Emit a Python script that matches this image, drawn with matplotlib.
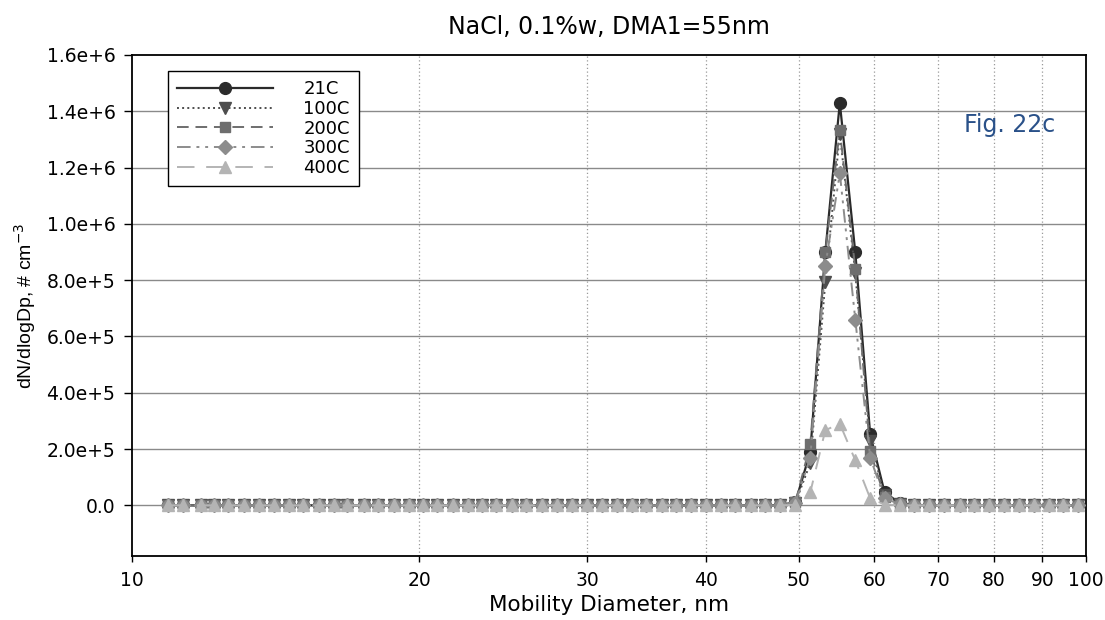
import matplotlib
matplotlib.use('Agg')
import matplotlib.pyplot as plt
from matplotlib.ticker import FuncFormatter, NullLocator

plt.rcParams['font.family'] = ['DejaVu Sans']

# SMPS channel midpoints, nm
diam = [10.9, 11.3, 11.8, 12.2, 12.6, 13.1, 13.6, 14.1, 14.6, 15.1,
        15.7, 16.3, 16.8, 17.5, 18.1, 18.8, 19.5, 20.2, 20.9, 21.7,
        22.5, 23.3, 24.1, 25.0, 25.9, 26.9, 27.9, 28.9, 30.0, 31.1,
        32.2, 33.4, 34.6, 35.9, 37.2, 38.5, 40.0, 41.4, 42.9, 44.5,
        46.1, 47.8, 49.6, 51.4, 53.3, 55.2, 57.3, 59.4, 61.5, 63.8,
        66.1, 68.5, 71.0, 73.7, 76.4, 79.1, 82.0, 85.1, 88.2, 91.4,
        94.7, 98.2]

# dN/dlogDp for each temperature (zeros outside the peak)
n_21c = [0, 0, 0, 0, 0, 0, 0, 0, 0, 0,
         0, 0, 0, 0, 0, 0, 0, 0, 0, 0,
         0, 0, 0, 0, 0, 0, 0, 0, 0, 0,
         0, 0, 0, 0, 0, 0, 0, 0, 0, 0,
         0, 0, 1.2e4, 1.9e5, 9.0e5, 1.43e6, 8.99e5, 2.52e5, 4.6e4, 8e3,
         2e3, 0, 0, 0, 0, 0, 0, 0, 0, 0,
         0, 0]
n_100c = [0, 0, 0, 0, 0, 0, 0, 0, 0, 0,
          0, 0, 0, 0, 0, 0, 0, 0, 0, 0,
          0, 0, 0, 0, 0, 0, 0, 0, 0, 0,
          0, 0, 0, 0, 0, 0, 0, 0, 0, 0,
          0, 0, 1.0e4, 1.5e5, 7.93e5, 1.32e6, 8.25e5, 2.3e5, 3.5e4, 5e3,
          1e3, 0, 0, 0, 0, 0, 0, 0, 0, 0,
          0, 0]
n_200c = [0, 0, 0, 0, 0, 0, 0, 0, 0, 0,
          0, 0, 0, 0, 0, 0, 0, 0, 0, 0,
          0, 0, 0, 0, 0, 0, 0, 0, 0, 0,
          0, 0, 0, 0, 0, 0, 0, 0, 0, 0,
          0, 0, 1.2e4, 2.17e5, 9.0e5, 1.333e6, 8.4e5, 1.92e5, 3.0e4, 5e3,
          1e3, 0, 0, 0, 0, 0, 0, 0, 0, 0,
          0, 0]
n_300c = [0, 0, 0, 0, 0, 0, 0, 0, 0, 0,
          0, 0, 0, 0, 0, 0, 0, 0, 0, 0,
          0, 0, 0, 0, 0, 0, 0, 0, 0, 0,
          0, 0, 0, 0, 0, 0, 0, 0, 0, 0,
          0, 0, 1.0e4, 1.7e5, 8.5e5, 1.18e6, 6.6e5, 1.7e5, 2.5e4, 4e3,
          1e3, 0, 0, 0, 0, 0, 0, 0, 0, 0,
          0, 0]
n_400c = [0, 0, 0, 0, 0, 0, 0, 0, 0, 0,
          0, 0, 0, 0, 0, 0, 0, 0, 0, 0,
          0, 0, 0, 0, 0, 0, 0, 0, 0, 0,
          0, 0, 0, 0, 0, 0, 0, 0, 0, 0,
          0, 0, 2e3, 4.6e4, 2.67e5, 2.9e5, 1.6e5, 2.5e4, 3e3, 0,
          0, 0, 0, 0, 0, 0, 0, 0, 0, 0,
          0, 0]

labels = ['21C', '100C', '200C', '300C', '400C']
series = [n_21c, n_100c, n_200c, n_300c, n_400c]
colors = ['#2b2b2b', '#4d4d4d', '#6e6e6e', '#8c8c8c', '#b4b4b4']
markers = ['o', 'v', 's', 'D', '^']
sizes = [8.5, 8.5, 7, 7.5, 8.5]
widths = [1.6, 1.4, 1.4, 1.4, 1.4]
styles = ['-', ':', (0, (6, 3.5)), (0, (7, 3, 1.5, 3, 1.5, 3)), (0, (9, 6))]

fig = plt.figure(figsize=(11.05, 6.2), dpi=100)
ax = fig.add_axes([0.1195, 0.1032, 0.8633, 0.8081])

for y, lab, c, m, ms, lw, ls in zip(series, labels, colors, markers, sizes, widths, styles):
    ax.plot(diam, y, color=c, linestyle=ls, linewidth=lw, marker=m,
            markersize=ms, markerfacecolor=c, markeredgecolor=c, label=lab, zorder=3)

ax.set_xscale('log')
ax.set_xlim(10, 100)
ax.set_ylim(-1.8e5, 1.6e6)

xt = [10, 20, 30, 40, 50, 60, 70, 80, 90, 100]
ax.set_xticks(xt)
ax.set_xticklabels([str(v) for v in xt])
ax.xaxis.set_minor_locator(NullLocator())
ax.set_yticks([i * 2e5 for i in range(9)])


def yfmt(v, pos):
    if v == 0:
        return '0.0'
    s = '%.1e' % v
    mant, ex = s.split('e')
    return '%se+%d' % (mant, int(ex))


ax.yaxis.set_major_formatter(FuncFormatter(yfmt))
ax.tick_params(axis='y', direction='out', length=6, width=1, pad=6, labelsize=13.5)
ax.tick_params(axis='x', direction='out', length=4.5, width=1, pad=6, labelsize=13.5)

# grid: solid horizontal, dotted vertical
for v in [i * 2e5 for i in range(8)]:
    ax.axhline(v, color='#8a8a8a', linewidth=1, zorder=1)
for v in xt[1:-1]:
    ax.axvline(v, color='#9a9a9a', linewidth=0.9, linestyle=(0, (1, 2)), zorder=1)

for sp in ax.spines.values():
    sp.set_linewidth(1.3)
    sp.set_color('black')

ax.set_title('NaCl, 0.1%w, DMA1=55nm', fontsize=17, pad=15)
ax.set_xlabel('Mobility Diameter, nm', fontsize=15.5, labelpad=4)
ax.set_ylabel('dN/dlogDp, # cm$^{-3}$', fontsize=14,
              family=['Liberation Sans Narrow', 'Liberation Sans'], labelpad=6)

leg = ax.legend(loc='upper left', bbox_to_anchor=(0.0377, 0.968), borderaxespad=0,
                fontsize=13, handlelength=5.3, numpoints=1, labelspacing=0.1,
                fancybox=False, framealpha=1, edgecolor='black', borderpad=0.5,
                handletextpad=1.7)
leg.get_frame().set_linewidth(1.0)

ax.text(0.968, 0.86, 'Fig. 22c', transform=ax.transAxes, ha='right', va='center',
        fontsize=17, color='#2a5189')

fig.savefig('out.png', dpi=100)
